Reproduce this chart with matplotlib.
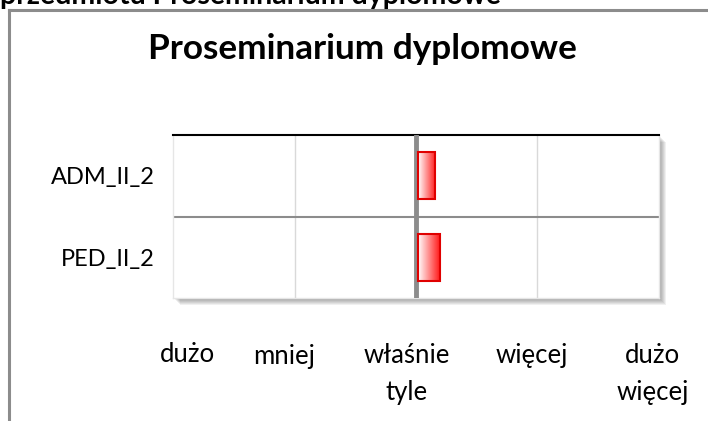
import matplotlib
matplotlib.use('Agg')
import matplotlib.pyplot as plt
import matplotlib.patches as mpatches
import matplotlib.transforms as mtransforms
import numpy as np

plt.rcParams['font.family'] = ['Lato', 'DejaVu Sans']

title = 'Proseminarium dyplomowe'
top_text = 'przedmiotu Proseminarium dyplomowe'
groups = ['PED_II_2', 'ADM_II_2']
values = [0.18, 0.14]
scale_labels = ['dużo', 'mniej', 'właśnie\ntyle', 'więcej', 'dużo\nwięcej']
label_x = [-1.88, -1.09, -0.08, 0.95, 1.95]
label_base = [362, 364, 363, 363, 363]  # first-line baseline, pixels from top
line_pitch = 37

W, H = 708, 421
fig = plt.figure(figsize=(W / 100, H / 100), dpi=100)
fig.patch.set_facecolor('white')

# outer frame (cropped)
fig.add_artist(plt.Line2D([9 / W, 9 / W], [0, 1 - 10 / H], color='#8c8c8c', lw=2.2))
fig.add_artist(plt.Line2D([9 / W, 1], [1 - 10 / H, 1 - 10 / H], color='#8c8c8c', lw=2.2))

# cut-off heading at the very top
fig.text(0.0, 1 - 4 / H, top_text, fontsize=20.5, fontweight='bold', ha='left', va='baseline')

fig.text(362 / W, 1 - 59 / H, title, fontsize=25.3, fontweight='bold', ha='center', va='baseline')

l, r, t, b = 173, 659, 135, 298
ax = fig.add_axes([l / W, 1 - b / H, (r - l) / W, (b - t) / H])

# drop shadow
for i in range(6):
    off = 2 + i
    sh = mpatches.Rectangle(((l + off) / W, 1 - (b + off) / H), (r - l) / W, (b - t) / H,
                            transform=fig.transFigure, facecolor='#000000',
                            alpha=0.06, edgecolor='none', zorder=0)
    fig.add_artist(sh)
ax.set_zorder(2)
ax.set_facecolor('white')

ax.set_xlim(-2, 2)
ax.set_ylim(-0.5, 1.5)
ypos = np.arange(len(groups))

for x in [-1, 1]:
    ax.axvline(x, color='#d9d9d9', lw=1, zorder=1)
ax.axhline(0.5, color='#8c8c8c', lw=1.5, zorder=1)
ax.axvline(0, color='#8c8c8c', lw=3.5, zorder=3)

grad = np.linspace(0, 1, 256).reshape(1, -1)
cmap = matplotlib.colors.LinearSegmentedColormap.from_list('wr', ['#ffffff', '#ff1a1a'])
bars = ax.barh(ypos, values, height=0.58, left=0.02, color='none',
               edgecolor='#e00000', lw=1.5, zorder=4)
for bar in bars:
    x0, y0 = bar.get_x(), bar.get_y()
    im = ax.imshow(grad, cmap=cmap, aspect='auto', extent=[x0, x0 + bar.get_width(), y0, y0 + bar.get_height()],
                   zorder=3.5)
    im.set_clip_path(bar)

ax.set_yticks(ypos)
ax.set_yticklabels(groups, fontsize=17)
ax.tick_params(axis='y', length=0, pad=13)
ax.set_xticks([])

for s in ['left', 'right', 'bottom']:
    ax.spines[s].set_color('#e6e6e6')
    ax.spines[s].set_linewidth(1)
ax.spines['top'].set_color('#000000')
ax.spines['top'].set_linewidth(1.5)

trans = mtransforms.blended_transform_factory(ax.transData, fig.transFigure)
for lab, x, yb in zip(scale_labels, label_x, label_base):
    lines = lab.split('\n')
    for k, line in enumerate(lines):
        ax.text(x, 1 - (yb + k * line_pitch) / H, line, fontsize=18.5, ha='center',
                va='baseline', transform=trans)

ax.set_aspect('auto')
fig.savefig('out.png', dpi=100)
